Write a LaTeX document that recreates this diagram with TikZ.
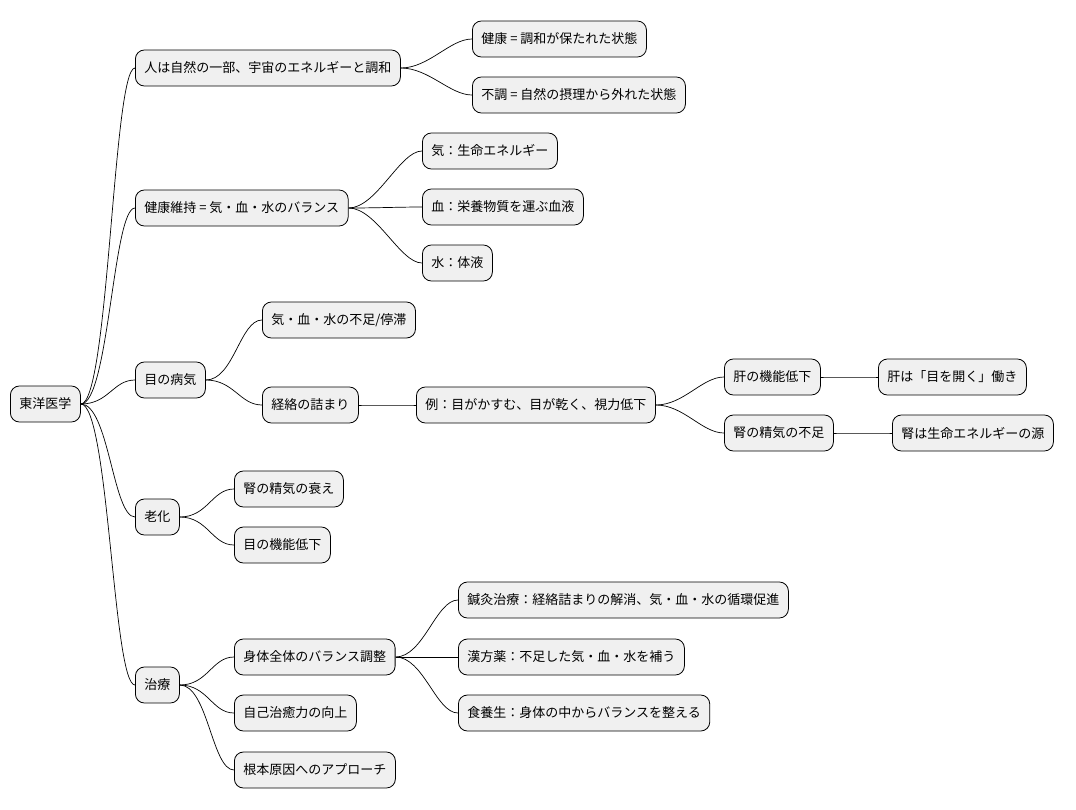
\documentclass[tikz,border=0pt]{standalone}
\usepackage{fontspec}
\setmainfont{Noto Sans CJK JP}
\usetikzlibrary{positioning}

\begin{document}
\begin{tikzpicture}[x=1pt, y=-1pt,
    topic/.style={draw, rounded corners=9pt, fill=gray!12, minimum height=36pt,
      inner xsep=9pt, anchor=west, font=\fontsize{13}{15}\selectfont, line width=0.8pt},
    branch/.style={line width=0.7pt}
]
\useasboundingbox (0,0) rectangle (1076,809);
% root
\node[topic] (root) at (10,404) {東洋医学};
% level 1
\node[topic] (nature) at (135,68) {人は自然の一部、宇宙のエネルギーと調和};
\node[topic] (balance) at (135,208) {健康維持 = 気・血・水のバランス};
\node[topic] (eye) at (135,380) {目の病気};
\node[topic] (aging) at (135,517) {老化};
\node[topic] (cure) at (135,685) {治療};
% level 2
\node[topic] (healthy) at (472,39) {健康 = 調和が保たれた状態};
\node[topic] (unwell) at (472,95) {不調 = 自然の摂理から外れた状態};
\node[topic] (ki) at (422,151) {気：生命エネルギー};
\node[topic] (ketsu) at (422,207) {血：栄養物質を運ぶ血液};
\node[topic] (sui) at (422,263) {水：体液};
\node[topic] (lack) at (262,320) {気・血・水の不足/停滞};
\node[topic] (meridian) at (262,405) {経絡の詰まり};
\node[topic] (example) at (416,405) {例：目がかすむ、目が乾く、視力低下};
\node[topic] (liver) at (724,377) {肝の機能低下};
\node[topic] (liverrole) at (878,377) {肝は「目を開く」働き};
\node[topic] (kidney) at (724,433) {腎の精気の不足};
\node[topic] (kidneyrole) at (892,433) {腎は生命エネルギーの源};
\node[topic] (decline) at (234,489) {腎の精気の衰え};
\node[topic] (eyefunc) at (234,545) {目の機能低下};
\node[topic] (whole) at (234,657) {身体全体のバランス調整};
\node[topic] (acu) at (458,600) {鍼灸治療：経絡詰まりの解消、気・血・水の循環促進};
\node[topic] (kampo) at (458,657) {漢方薬：不足した気・血・水を補う};
\node[topic] (diet) at (458,713) {食養生：身体の中からバランスを整える};
\node[topic] (heal) at (234,713) {自己治癒力の向上};
\node[topic] (root2) at (234,770) {根本原因へのアプローチ};
% connectors
\foreach \a/\b in {root/nature, root/balance, root/eye, root/aging, root/cure,
    nature/healthy, nature/unwell, balance/ki, balance/ketsu, balance/sui,
    eye/lack, eye/meridian, meridian/example, example/liver, example/kidney,
    liver/liverrole, kidney/kidneyrole, aging/decline, aging/eyefunc,
    cure/whole, cure/heal, cure/root2, whole/acu, whole/kampo, whole/diet}
  \draw[branch] (\a.east) .. controls +(28,0) and +(-22,0) .. (\b.west);
\end{tikzpicture}
\end{document}
